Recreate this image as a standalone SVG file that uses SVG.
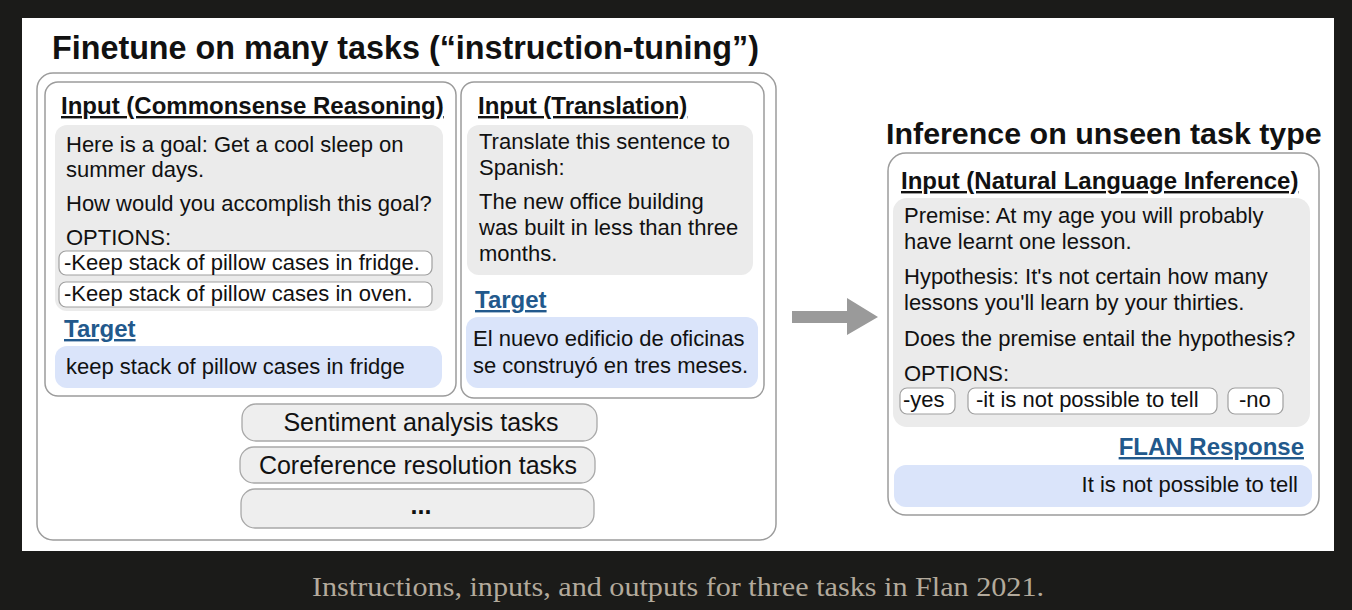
<svg xmlns="http://www.w3.org/2000/svg" width="1352" height="610" viewBox="0 0 1352 610">
<style>
text{font-family:"Liberation Sans",Arial,sans-serif;fill:#111}
.t{font-size:22px}
.h{font-size:24px;font-weight:bold;text-decoration:underline}
.tg{font-size:24px;font-weight:bold;text-decoration:underline;fill:#22598c}
.title{font-weight:bold}
.box{fill:#fff;stroke:#9c9c9c;stroke-width:1.5}
.gray{fill:#ebebeb}
.blue{fill:#dae4fa}
.opt{fill:#fff;stroke:#a0a0a0;stroke-width:1.2}
.pill{fill:#eeeeee;stroke:#a8a8a8;stroke-width:1.3}
.pt{font-size:25px;text-anchor:middle}
.cap{font-family:"Liberation Serif","Times New Roman",serif;font-size:27px;fill:#b3aa9c}
</style>
<rect x="0" y="0" width="1352" height="610" fill="#1b1b19"/>
<rect x="22" y="18" width="1312" height="533" fill="#fff"/>

<g id="title-finetune"><text class="title" x="52" y="59" font-size="32.3">Finetune on many tasks (“instruction-tuning”)</text></g>
<g id="finetune-container"><rect class="box" x="37" y="73" width="739" height="467" rx="16"/></g>

<g id="commonsense">
<rect class="box" x="45" y="82" width="411" height="314" rx="13"/>
<text class="h" x="61" y="114" font-size="24.2">Input (Commonsense Reasoning)</text>
<rect class="gray" x="55" y="125" width="388" height="186" rx="12"/>
<text class="t" x="66" y="152">Here is a goal: Get a cool sleep on</text>
<text class="t" x="66" y="177">summer days.</text>
<text class="t" x="66" y="211">How would you accomplish this goal?</text>
<text class="t" x="66" y="245">OPTIONS:</text>
<rect class="opt" x="59" y="251" width="373" height="24" rx="7"/>
<text class="t" x="64" y="270">-Keep stack of pillow cases in fridge.</text>
<rect class="opt" x="59" y="282" width="373" height="25" rx="7"/>
<text class="t" x="64" y="301">-Keep stack of pillow cases in oven.</text>
<text class="tg" x="64" y="337">Target</text>
<rect class="blue" x="55" y="346" width="387" height="42" rx="12"/>
<text class="t" x="66" y="374">keep stack of pillow cases in fridge</text>
</g>

<g id="translation">
<rect class="box" x="461" y="82" width="303" height="316" rx="13"/>
<text class="h" x="478" y="114">Input (Translation)</text>
<rect class="gray" x="467" y="125" width="286" height="150" rx="12"/>
<text class="t" x="479" y="149">Translate this sentence to</text>
<text class="t" x="479" y="175">Spanish:</text>
<text class="t" x="479" y="209">The new office building</text>
<text class="t" x="479" y="235">was built in less than three</text>
<text class="t" x="479" y="261">months.</text>
<text class="tg" x="475" y="308">Target</text>
<rect class="blue" x="466" y="317" width="292" height="71" rx="12"/>
<text class="t" x="473" y="346">El nuevo edificio de oficinas</text>
<text class="t" x="473" y="373">se construyó en tres meses.</text>
</g>

<g id="sentiment"><rect class="pill" x="242" y="404" width="355" height="37" rx="14"/><text class="pt" x="421" y="431">Sentiment analysis tasks</text></g>
<g id="coreference"><rect class="pill" x="240" y="447" width="355" height="36" rx="14"/><text class="pt" x="418" y="474">Coreference resolution tasks</text></g>
<g id="more-tasks"><rect class="pill" x="241" y="489" width="353" height="39" rx="14"/><text class="pt" x="421" y="514" font-weight="bold" font-size="26">...</text></g>

<g id="connectors">
<polygon points="792,311 847,311 847,298 878,317 847,335 847,323 792,323" fill="#9a9a9a"/>
</g>

<g id="title-inference"><text class="title" x="886" y="144" font-size="30.4">Inference on unseen task type</text></g>

<g id="nli">
<rect class="box" x="888" y="153" width="431" height="362" rx="18"/>
<text class="h" x="901" y="189" font-size="24.3">Input (Natural Language Inference)</text>
<rect class="gray" x="893" y="198" width="417" height="229" rx="14"/>
<text class="t" x="904" y="223">Premise: At my age you will probably</text>
<text class="t" x="904" y="249">have learnt one lesson.</text>
<text class="t" x="904" y="284">Hypothesis: It's not certain how many</text>
<text class="t" x="904" y="310">lessons you'll learn by your thirties.</text>
<text class="t" x="904" y="346">Does the premise entail the hypothesis?</text>
<text class="t" x="904" y="381">OPTIONS:</text>
<rect class="opt" x="900" y="388" width="55" height="26" rx="7"/>
<text class="t" x="903" y="407">-yes</text>
<rect class="opt" x="968" y="388" width="249" height="26" rx="7"/>
<text class="t" x="976" y="407">-it is not possible to tell</text>
<rect class="opt" x="1228" y="388" width="55" height="26" rx="7"/>
<text class="t" x="1239" y="407">-no</text>
<text class="tg" x="1304" y="455" text-anchor="end">FLAN Response</text>
<rect class="blue" x="894" y="465" width="418" height="42" rx="12"/>
<text class="t" x="1298" y="492" text-anchor="end">It is not possible to tell</text>
</g>

<g id="caption"><text class="cap" x="312" y="596" textLength="732" lengthAdjust="spacingAndGlyphs">Instructions, inputs, and outputs for three tasks in Flan 2021.</text></g>
</svg>
